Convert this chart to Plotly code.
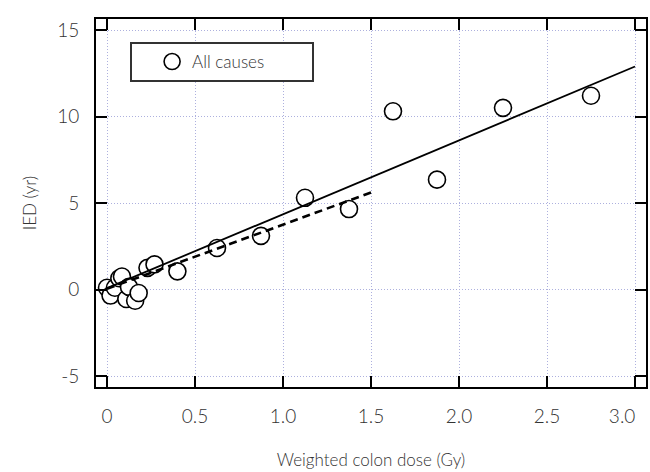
import plotly.graph_objects as go

# ---- data ----
dose = [0.0, 0.02, 0.045, 0.07, 0.085, 0.11, 0.125, 0.16, 0.18, 0.23, 0.27,
        0.40, 0.625, 0.875, 1.125, 1.375, 1.625, 1.875, 2.25, 2.75]
ied = [0.1, -0.35, 0.1, 0.65, 0.75, -0.55, 0.15, -0.65, -0.2, 1.25, 1.45,
       1.05, 2.4, 3.1, 5.3, 4.65, 10.3, 6.35, 10.5, 11.2]

solid_fit = {"intercept": 0.08, "slope": 4.27}
solid_x = [0.0, 3.0]
dash_fit = {"intercept": 0.04, "slope": 3.71}
dash_x = [0.0, 1.5]

x_ticks = [0, 0.5, 1.0, 1.5, 2.0, 2.5, 3.0]
x_ticktext = ["0", "0.5", "1.0", "1.5", "2.0", "2.5",
              "3.0\u00a0\u00a0\u00a0\u00a0\u00a0"]
y_ticks = [-5, 0, 5, 10, 15]
y_ticktext = ["-5", "0", "5", "10", "15"]

solid_y = [solid_fit["intercept"] + solid_fit["slope"] * v for v in solid_x]
dash_y = [dash_fit["intercept"] + dash_fit["slope"] * v for v in dash_x]

FONT = "Lato, Roboto, Liberation Sans, sans-serif"
GRID = "#adb0de"
TXT = "#333"

fig = go.Figure()
fig.add_trace(go.Scatter(
    x=dose, y=ied, mode="markers", name="All causes",
    marker=dict(symbol="circle", size=17, color="white",
                line=dict(color="black", width=1.6)),
))
fig.add_trace(go.Scatter(
    x=solid_x, y=solid_y, mode="lines", showlegend=False,
    line=dict(color="black", width=1.8),
))
fig.add_trace(go.Scatter(
    x=dash_x, y=dash_y, mode="lines", showlegend=False,
    line=dict(color="black", width=2.6, dash="8px,5px"),
))

axis_common = dict(
    showline=True, linecolor="black", linewidth=2, mirror="ticks",
    ticks="inside", ticklen=11, tickwidth=2, tickcolor="black",
    showgrid=True, gridcolor=GRID, gridwidth=1, griddash="1px,2px",
    zeroline=False, automargin=False, ticklabeloverflow="allow",
    tickfont=dict(family=FONT, size=19, color=TXT, weight=300),
)

fig.update_xaxes(
    range=[-0.0625, 3.0625], tickvals=x_ticks, ticktext=x_ticktext,
    ticklabelstandoff=11,
    title=dict(text="Weighted colon dose (Gy)", standoff=28,
               font=dict(family=FONT, size=17, color=TXT, weight=300)),
    **axis_common,
)
fig.update_yaxes(
    range=[-5.636, 15.636], tickvals=y_ticks, ticktext=y_ticktext,
    ticklabelstandoff=11,
    title=dict(text="IED (yr)", standoff=16,
               font=dict(family=FONT, size=17, color=TXT, weight=300)),
    **axis_common,
)

fig.update_layout(
    width=650, height=472,
    margin=dict(l=96, r=4, t=19, b=85),
    paper_bgcolor="white", plot_bgcolor="white",
    legend=dict(
        orientation="h",
        x=0.062, y=0.9375, xanchor="left", yanchor="top",
        bgcolor="white", bordercolor="#333", borderwidth=2,
        font=dict(family=FONT, size=17, color=TXT, weight=300),
        itemwidth=30, indentation=20, entrywidth=115,
    ),
)

fig.write_html("out.html", config={"displayModeBar": False},
               post_script="document.body.style.margin='0';")
